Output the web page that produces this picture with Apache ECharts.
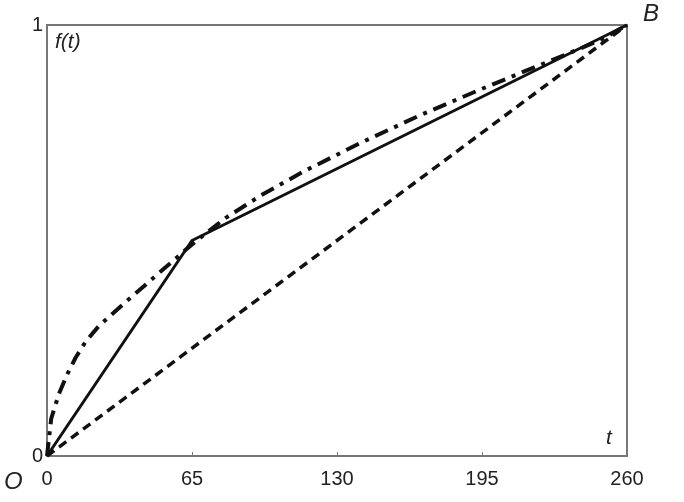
<!DOCTYPE html>
<html><head><meta charset="utf-8">
<script src="https://cdn.jsdelivr.net/npm/echarts@6/dist/echarts.min.js"></script>
<style>html,body{margin:0;padding:0;background:#fff;}#c{width:684px;height:502px;}</style>
</head><body><div id="c"></div>
<script>
const xTicks = [0, 65, 130, 195, 260];
const yTicks = [0, 1];
const solidT = [0, 65, 260];
const solidF = [0, 0.5, 1];
const dashT = [0, 260];
const dashF = [0, 1];
const dashDotT = [0, 1.9, 5.4, 9.1, 12.8, 17.3, 23.3, 30, 34.5, 41.2, 46.5, 52.5, 57.7, 61.4, 65, 80, 96, 115, 140, 167, 195, 220, 239, 250, 260];
const dashDotF = [0, 0.087, 0.145, 0.190, 0.228, 0.265, 0.302, 0.333, 0.354, 0.384, 0.408, 0.435, 0.458, 0.475, 0.491, 0.552, 0.605, 0.66, 0.725, 0.79, 0.852, 0.905, 0.945, 0.97, 1];

const pair = (t, f) => t.map((v, i) => [v, f[i]]);
const font = "'Liberation Sans', Arial, sans-serif";
const chart = echarts.init(document.getElementById('c'));
chart.setOption({
  animation: false,
  backgroundColor: '#fff',
  grid: { left: 47, right: 57, top: 25, bottom: 46, show: true, borderColor: '#777', borderWidth: 2, backgroundColor: 'transparent' },
  xAxis: {
    type: 'value', min: 0, max: 260, interval: 65,
    axisLine: { show: true, lineStyle: { color: '#777', width: 2 } },
    axisTick: { show: true, inside: true, length: 4, lineStyle: { color: '#777', width: 1 } },
    splitLine: { show: false },
    axisLabel: { color: '#222', fontSize: 20, fontFamily: font, margin: 13,
      formatter: v => xTicks.includes(v) ? String(v) : '' }
  },
  yAxis: {
    type: 'value', min: 0, max: 1, interval: 1,
    axisLine: { show: true, lineStyle: { color: '#777', width: 2 } },
    axisTick: { show: false },
    splitLine: { show: false },
    axisLabel: { color: '#222', fontSize: 20, fontFamily: font, margin: 4,
      formatter: v => yTicks.includes(v) ? String(v) : '' }
  },
  series: [
    { type: 'line', data: pair(dashT, dashF), showSymbol: false, lineStyle: { color: '#111', width: 3.5, type: [9, 6] } },
    { type: 'line', data: pair(dashDotT, dashDotF), showSymbol: false, smooth: false,
      lineStyle: { color: '#111', width: 4, type: [14, 7, 4, 7] } },
    { type: 'line', data: pair(solidT, solidF), showSymbol: false, lineStyle: { color: '#111', width: 3 } }
  ],
  graphic: [
    { type: 'text', left: 4, top: 470, style: { text: 'O', font: 'italic 24px ' + font, fill: '#222' } },
    { type: 'text', left: 643, top: 2, style: { text: 'B', font: 'italic 24px ' + font, fill: '#222' } },
    { type: 'text', left: 55, top: 32, style: { text: 'f(t)', font: 'italic 21px ' + font, fill: '#222' } },
    { type: 'text', left: 606, top: 428, style: { text: 't', font: 'italic 21px ' + font, fill: '#222' } }
  ]
});
</script></body></html>
